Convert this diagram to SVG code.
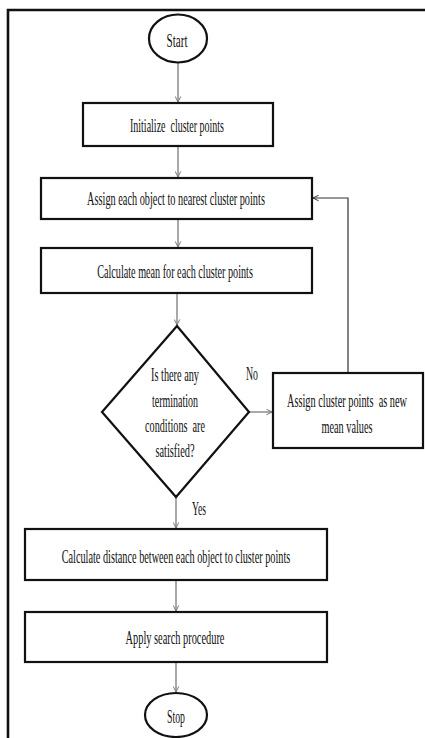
<svg xmlns="http://www.w3.org/2000/svg" width="425" height="738" viewBox="0 0 425 738">
<defs>
<marker id="ah" viewBox="0 0 10 10" refX="9" refY="5" markerWidth="7" markerHeight="7" markerUnits="userSpaceOnUse" orient="auto">
<path d="M1,1 L9,5 L1,9" fill="none" stroke="#777" stroke-width="1.4"/>
</marker>
<marker id="ahk" viewBox="0 0 10 10" refX="9" refY="5" markerWidth="7" markerHeight="7" markerUnits="userSpaceOnUse" orient="auto">
<path d="M1,1 L9,5 L1,9" fill="none" stroke="#333" stroke-width="1.4"/>
</marker>
</defs>
<style>
.n{fill:#fff;stroke:#111;stroke-width:2.2}
.t{font-family:"Liberation Serif","Times New Roman",serif;font-size:18px;fill:#111;text-anchor:middle}
.c{fill:none;stroke:#7a7a7a;stroke-width:1.3;marker-end:url(#ah)}
.ck{fill:none;stroke:#333;stroke-width:1.2;marker-end:url(#ahk)}
.f{fill:none;stroke:#111;stroke-width:2.6}
</style>
<rect width="425" height="738" fill="#fff"/>
<path class="f" d="M8,738 L8,10 L425,10"/>
<g id="connectors">
<line class="c" x1="178" y1="63" x2="178" y2="102"/>
<line class="c" x1="178" y1="146" x2="178" y2="177"/>
<line class="c" x1="178" y1="219" x2="178" y2="247"/>
<line class="c" x1="177" y1="293" x2="177" y2="325"/>
<line class="c" x1="249" y1="412" x2="272" y2="412"/>
<polyline class="ck" points="348,373 348,198 313,198"/>
<line class="c" x1="176" y1="497" x2="176" y2="528"/>
<line class="c" x1="176" y1="580" x2="176" y2="611"/>
<line class="c" x1="176" y1="662" x2="176" y2="692"/>
<text class="t" transform="matrix(0.545,0,0,1,252,380)">No</text>
<text class="t" transform="matrix(0.536,0,0,1,199,515)">Yes</text>
</g>
<g id="start">
<ellipse class="n" cx="178" cy="38.5" rx="29" ry="24"/>
<text class="t" transform="matrix(0.618,0,0,1,177,47)">Start</text>
</g>
<g id="init">
<rect class="n" x="83" y="103" width="190" height="43"/>
<text class="t" transform="matrix(0.555,0,0,1,177,132)" xml:space="preserve">Initialize  cluster points</text>
</g>
<g id="assign">
<rect class="n" x="41" y="178" width="271" height="41"/>
<text class="t" transform="matrix(0.572,0,0,1,176,205)">Assign each object to nearest cluster points</text>
</g>
<g id="mean">
<rect class="n" x="41" y="248" width="271" height="45"/>
<text class="t" transform="matrix(0.566,0,0,1,175,278)">Calculate mean for each cluster points</text>
</g>
<g id="decision">
<polygon class="n" points="177,326 249,412 176,497 102,412"/>
<text class="t" transform="matrix(0.571,0,0,1,175,381)">Is there any</text>
<text class="t" transform="matrix(0.554,0,0,1,175,407)">termination</text>
<text class="t" transform="matrix(0.566,0,0,1,175,432)" xml:space="preserve">conditions  are</text>
<text class="t" transform="matrix(0.574,0,0,1,175,457)">satisfied?</text>
</g>
<g id="update">
<rect class="n" x="273" y="373" width="150" height="75"/>
<text class="t" transform="matrix(0.573,0,0,1,347,407)" xml:space="preserve">Assign cluster points  as new</text>
<text class="t" transform="matrix(0.57,0,0,1,347,433)">mean values</text>
</g>
<g id="distance">
<rect class="n" x="25" y="529" width="302" height="51"/>
<text class="t" transform="matrix(0.57,0,0,1,176,563)">Calculate distance between each object to cluster points</text>
</g>
<g id="search">
<rect class="n" x="25" y="612" width="302" height="50"/>
<text class="t" transform="matrix(0.576,0,0,1,175,644)">Apply search procedure</text>
</g>
<g id="stop">
<ellipse class="n" cx="176" cy="715" rx="31" ry="22"/>
<text class="t" transform="matrix(0.545,0,0,1,176,723)">Stop</text>
</g>
</svg>
